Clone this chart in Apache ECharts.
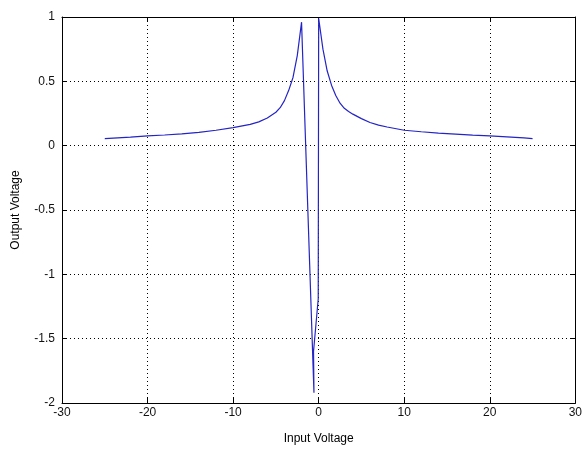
<!DOCTYPE html>
<html>
<head>
<meta charset="utf-8">
<script src="https://cdn.jsdelivr.net/npm/echarts@6/dist/echarts.min.js"></script>
<style>html,body{margin:0;padding:0;background:#fff;}#c{width:585px;height:450px;}</style>
</head>
<body>
<div id="c"></div>
<script>
// Input voltage samples (x) and output voltage (y)
var inputVoltage = [-25, -24, -22, -20, -18, -16, -14, -12, -10, -8, -7, -6, -5, -4.5, -4, -3.5, -3, -2.5, -2,
  -0.55, -0.6, -0.05,
  0, 0.5, 1, 1.5, 2, 2.5, 3, 3.5, 4, 5, 6, 7, 8, 10, 12, 14, 16, 18, 20, 22, 24, 25];
var outputVoltage = [0.054, 0.058, 0.066, 0.076, 0.083, 0.092, 0.104, 0.12, 0.14, 0.166, 0.185, 0.215, 0.26, 0.295, 0.35, 0.43, 0.53, 0.70, 0.96,
  -1.92, -1.6, -1.19,
  0.99, 0.75, 0.58, 0.47, 0.39, 0.33, 0.29, 0.265, 0.245, 0.21, 0.18, 0.16, 0.145, 0.12, 0.108, 0.098, 0.09, 0.082, 0.076, 0.068, 0.06, 0.055];
var xTicks = [-30, -20, -10, 0, 10, 20, 30];
var yTicks = [-2, -1.5, -1, -0.5, 0, 0.5, 1];

var pts = inputVoltage.map(function (x, i) { return [x, outputVoltage[i]]; });
var font = 'Arial, "Liberation Sans", sans-serif';
var chart = echarts.init(document.getElementById('c'), null, {renderer: 'canvas'});
var gridLine = {show: true, lineStyle: {color: '#000', width: 1, type: [1, 3]}};
var axisLine = {show: true, onZero: false, lineStyle: {color: '#000', width: 1}};
var tick = {show: true, inside: true, length: 5, lineStyle: {color: '#000'}};
chart.setOption({
  backgroundColor: '#fff',
  animation: false,
  grid: {left: 62, right: 9, top: 17, bottom: 41, containLabel: false},
  xAxis: [{
    type: 'value', min: xTicks[0], max: xTicks[xTicks.length - 1], interval: 10,
    name: 'Input Voltage', nameLocation: 'middle', nameGap: 30,
    nameTextStyle: {fontFamily: font, fontSize: 12, color: '#000'},
    axisLine: axisLine, axisTick: tick, splitLine: gridLine,
    axisLabel: {fontFamily: font, fontSize: 12, color: '#111', margin: 4}
  }, {
    type: 'value', position: 'top', min: xTicks[0], max: xTicks[xTicks.length - 1], interval: 10,
    axisLine: axisLine, axisTick: tick, splitLine: {show: false}, axisLabel: {show: false}
  }],
  yAxis: [{
    type: 'value', min: yTicks[0], max: yTicks[yTicks.length - 1], interval: 0.5,
    name: 'Output Voltage', nameLocation: 'middle', nameGap: 40,
    nameTextStyle: {fontFamily: font, fontSize: 12, color: '#000'},
    axisLine: axisLine, axisTick: tick, splitLine: gridLine,
    axisLabel: {fontFamily: font, fontSize: 12, color: '#111', margin: 7}
  }, {
    type: 'value', position: 'right', min: yTicks[0], max: yTicks[yTicks.length - 1], interval: 0.5,
    axisLine: axisLine, axisTick: tick, splitLine: {show: false}, axisLabel: {show: false}
  }],
  series: [{
    type: 'line', data: pts, showSymbol: false, symbol: 'none',
    lineStyle: {color: '#2424c4', width: 1.2}, xAxisIndex: 0, yAxisIndex: 0
  }]
});
</script>
</body>
</html>
